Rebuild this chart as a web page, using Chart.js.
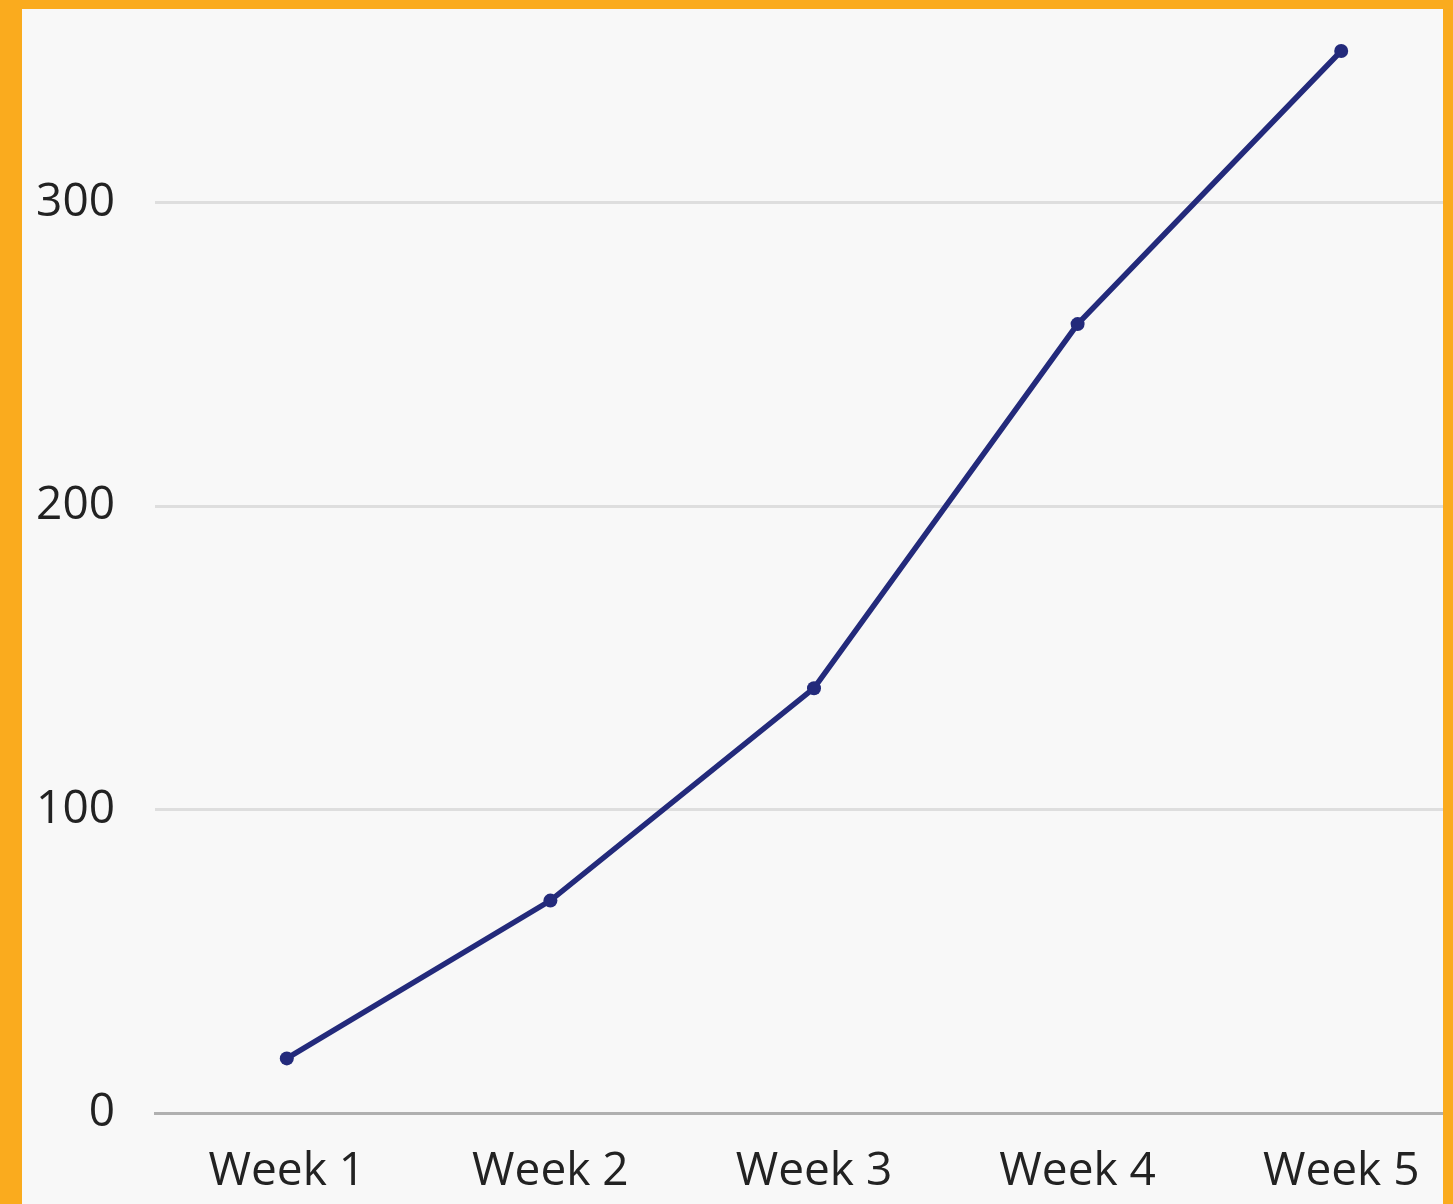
<!DOCTYPE html>
<html>
<head>
<meta charset="utf-8">
<script src="https://cdn.jsdelivr.net/npm/chart.js@4"></script>
<style>
  html, body { margin: 0; padding: 0; }
  body { width: 1453px; height: 1204px; overflow: hidden; position: relative; background: #f8f8f8; }
  #wrap { position: absolute; left: 0; top: 0; width: 1480px; height: 1204px; }
  .edge { position: absolute; background: #faab1e; }
</style>
</head>
<body>
<div id="wrap"><canvas id="chart"></canvas></div>
<div class="edge" style="left:0;top:0;width:22px;height:1204px"></div>
<div class="edge" style="left:0;top:0;width:1453px;height:9px"></div>
<div class="edge" style="left:1443px;top:0;width:10px;height:1204px"></div>
<script>
const weeks = ["Week 1", "Week 2", "Week 3", "Week 4", "Week 5"];
const values = [18, 70, 140, 260, 350];
const yTicks = [0, 100, 200, 300];

const bgPlugin = {
    id: 'bg',
    beforeDraw: (chart) => {
        const c = chart.ctx;
        c.save();
        c.fillStyle = '#f8f8f8';
        c.fillRect(0, 0, chart.width, chart.height);
        c.restore();
    }
};

const ctx = document.getElementById('chart').getContext('2d');
const myChart = new Chart(ctx, {
    type: 'line',
    data: {
        labels: weeks,
        datasets: [{
            data: values,
            borderColor: '#232a7b',
            backgroundColor: '#232a7b',
            borderWidth: 5.5,
            pointRadius: 7,
            pointBorderWidth: 0,
            tension: 0,
            clip: false
        }]
    },
    options: {
        responsive: true,
        maintainAspectRatio: false,
        animation: false,
        layout: { padding: { top: 51, right: 7, left: 0, bottom: 0 } },
        plugins: { legend: { display: false }, tooltip: { enabled: false } },
        scales: {
            x: {
                offset: true,
                grid: { display: false, drawTicks: false },
                border: { display: true, color: '#b0b0b0', width: 3 },
                ticks: { color: '#222', padding: 31, font: { family: 'Open Sans', size: 46 } },
                afterFit: (axis) => { axis.height = 91; }
            },
            y: {
                min: 0,
                max: 350,
                afterBuildTicks: (axis) => { axis.ticks = yTicks.map(v => ({ value: v })); },
                grid: { color: '#dedede', lineWidth: 3, drawTicks: false },
                border: { display: false },
                ticks: { color: '#222', padding: 40, font: { family: 'Open Sans', size: 46 } },
                afterFit: (axis) => {
                    axis.width = 155;
                    axis.paddingTop = 0; // keep label padding from pushing the top down
                    axis.paddingBottom = 0;
                }
            }
        }
    },
    plugins: [bgPlugin]
});
</script>
</body>
</html>
